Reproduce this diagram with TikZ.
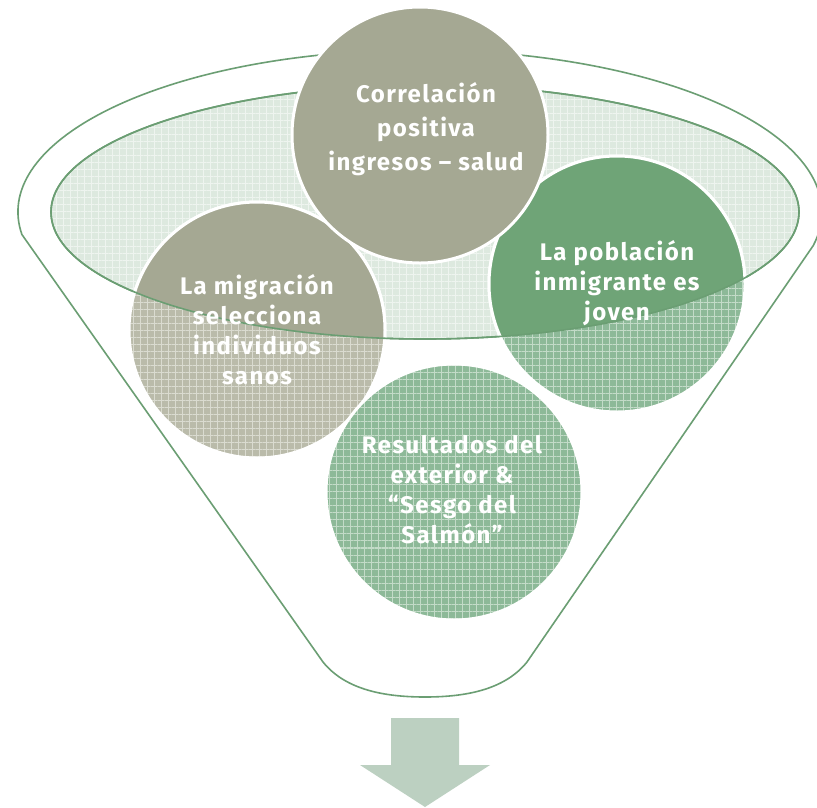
\documentclass[tikz,border=0pt]{standalone}
\usepackage{fontspec}
\setmainfont{Fira Sans}[LetterSpace=6]
\usetikzlibrary{patterns.meta}
\definecolor{fline}{HTML}{6B9E73}
\definecolor{graysolid}{HTML}{A5A893}
\definecolor{graypat}{HTML}{BABBAA}
\definecolor{graypatline}{HTML}{DADBD0}
\definecolor{greensolid}{HTML}{6FA477}
\definecolor{greenpat}{HTML}{8DB998}
\definecolor{greenpatline}{HTML}{C3DBC8}
\definecolor{innerbase}{HTML}{DDE9DF}
\definecolor{innerline}{HTML}{EEF4EF}
\definecolor{arrowc}{HTML}{BCD0C1}
\tikzset{
  funnelline/.style={draw=fline, line width=1.6pt},
  innerfill/.style={fill=innerbase, postaction={pattern={Hatch[angle=0,distance=7pt,line width=1pt]}, pattern color=innerline}},
  graypatfill/.style={fill=graypat, postaction={pattern={Hatch[angle=0,distance=7pt,line width=1pt]}, pattern color=graypatline}},
  greenpatfill/.style={fill=greenpat, postaction={pattern={Hatch[angle=0,distance=7pt,line width=1pt]}, pattern color=greenpatline}},
  ring/.style={draw=white, line width=3pt},
  label/.style={text=white, font=\fontsize{24}{30}\selectfont\bfseries, align=center, inner sep=0pt},
  arrowshape/.style={fill=arrowc}
}
\begin{document}
\begin{tikzpicture}[x=1pt,y=-1pt]
\useasboundingbox[fill=white] (0,0) rectangle (817,807);
% centres
\coordinate (cT) at (420,135);
\coordinate (cL) at (257,330);
\coordinate (cR) at (617,284);
\coordinate (cB) at (454,492);
\coordinate (cE) at (425,212);
% funnel outline
\draw[funnelline, line join=round] (21.9,234.5) arc[start angle=172,end angle=372,x radius=402,y radius=162]
   -- (527,662) .. controls (506,688) and (470,697) .. (425,697)
   .. controls (380,697) and (344,688) .. (323,662) -- cycle;
% inner ellipse (surface)
\path[innerfill] (cE) ellipse[x radius=374, y radius=127];
\draw[funnelline] (cE) ellipse[x radius=374, y radius=127];
% patterned (submerged) circles
\path[graypatfill] (cL) circle[radius=128];
\draw[ring] (cL) circle[radius=128];
\path[greenpatfill] (cR) circle[radius=128];
\draw[ring] (cR) circle[radius=128];
\path[greenpatfill] (cB) circle[radius=128];
\draw[ring] (cB) circle[radius=128];
% solid parts above the surface
\begin{scope}
\clip (51,212) -- (51,-20) -- (799,-20) -- (799,212) arc[start angle=0,end angle=180,x radius=374,y radius=127] -- cycle;
\fill[graysolid] (cL) circle[radius=128];
\draw[ring] (cL) circle[radius=128];
\fill[greensolid] (cR) circle[radius=128];
\draw[ring] (cR) circle[radius=128];
\end{scope}
\draw[funnelline] (cE) ellipse[x radius=374, y radius=127];
% top circle
\fill[graysolid] (cT) circle[radius=128];
\draw[ring] (cT) circle[radius=128];
% labels
\node[label, font=\fontsize{24}{34}\selectfont\bfseries] (tT) at (426,129) {Correlación\\positiva\\ingresos – salud};
\node[label] (tL) at (257,330) {La migración\\selecciona\\individuos\\sanos};
\node[label] (tR) at (617,283) {La población\\inmigrante es\\joven};
\node[label] (tB) at (452,490) {Resultados del\\exterior \&\\“Sesgo del\\Salmón”};
% arrow
\fill[arrowshape] (391,718) -- (459,718) -- (459,765) -- (490,765) -- (425,807) -- (360,765) -- (391,765) -- cycle;
\end{tikzpicture}
\end{document}
